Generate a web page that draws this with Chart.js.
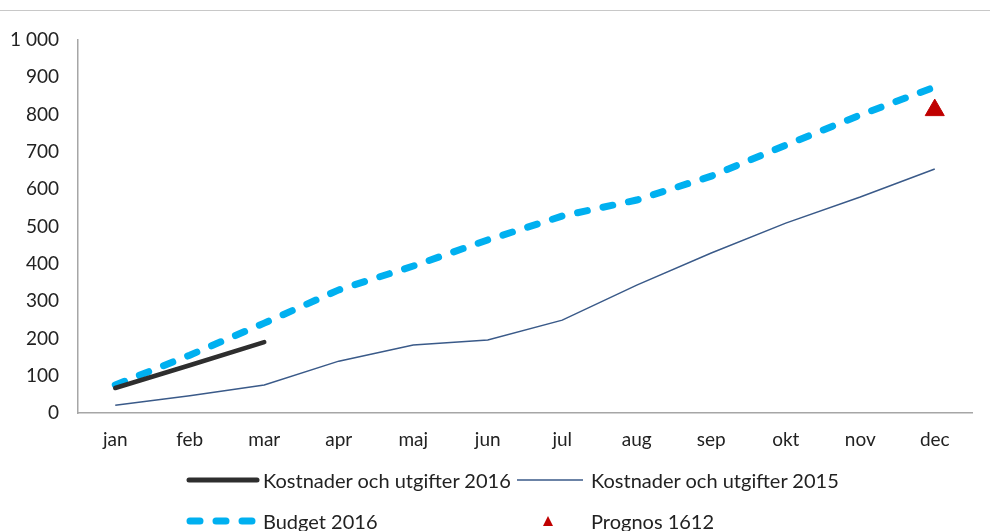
<!DOCTYPE html>
<html>
<head>
<meta charset="utf-8">
<script src="https://cdn.jsdelivr.net/npm/chart.js@4/dist/chart.umd.min.js"></script>
<style>
  html, body { margin: 0; padding: 0; background: #fff; }
  #wrap { position: relative; width: 990px; height: 531px; overflow: hidden; font-family: Lato, "Open Sans", sans-serif; }
  #topline { position: absolute; left: 0; top: 10px; width: 990px; height: 0; border-top: 1px solid #c8c8c8; }
  canvas { position: absolute; left: 0; top: 0; }
  .lg { position: absolute; font-size: 20px; color: #222; white-space: nowrap; line-height: 24px; }
  svg.mk { position: absolute; }
</style>
</head>
<body>
<div id="wrap">
  <canvas id="c" width="990" height="531"></canvas>
  <div id="topline"></div>
  <svg class="mk" style="left:185px;top:472px" width="76" height="16"><line x1="4" y1="8" x2="72" y2="8" stroke="#2e2e2e" stroke-width="5" stroke-linecap="round"/></svg>
  <div class="lg" style="left:263px;top:468px">Kostnader och utgifter 2016</div>
  <svg class="mk" style="left:515px;top:472px" width="70" height="16"><line x1="2" y1="8" x2="68" y2="8" stroke="#3a5a89" stroke-width="1.5"/></svg>
  <div class="lg" style="left:591px;top:468px">Kostnader och utgifter 2015</div>
  <svg class="mk" style="left:183px;top:513px" width="80" height="16"><line x1="7" y1="8" x2="76" y2="8" stroke="#00b0f0" stroke-width="7" stroke-linecap="round" stroke-dasharray="10 16"/></svg>
  <div class="lg" style="left:263px;top:509px">Budget 2016</div>
  <svg class="mk" style="left:541px;top:514px" width="14" height="14"><polygon points="7,2 12,12 2,12" fill="#c00000"/></svg>
  <div class="lg" style="left:591px;top:509px">Prognos 1612</div>
</div>
<script>
const months = ["jan","feb","mar","apr","maj","jun","jul","aug","sep","okt","nov","dec"];
const costs2016 = [67, 128, 190, null, null, null, null, null, null, null, null, null];
const costs2015 = [21, 46, 75, 139, 182, 196, 249, 343, 429, 509, 579, 654];
const budget2016 = [75, 155, 241, 330, 394, 464, 528, 571, 635, 718, 799, 874];
const prognos1612 = [null, null, null, null, null, null, null, null, null, null, null, 812];
const yTicks = [0, 100, 200, 300, 400, 500, 600, 700, 800, 900, 1000];

const fmt = v => v >= 1000 ? String(v).replace(/\B(?=(\d{3})+(?!\d))/g, "\u00a0") : String(v);

new Chart(document.getElementById("c"), {
  type: "line",
  data: {
    labels: months,
    datasets: [
      { label: "Prognos 1612", data: prognos1612, showLine: false, pointStyle: "triangle",
        pointRadius: 11, pointBackgroundColor: "#c00000", pointBorderColor: "#c00000", order: 0 },
      { label: "Kostnader och utgifter 2016", data: costs2016, borderColor: "#2e2e2e", borderWidth: 4.5,
        pointRadius: 0, borderCapStyle: "round", tension: 0, order: 1 },
      { label: "Budget 2016", data: budget2016, borderColor: "#00b0f0", borderWidth: 7,
        borderDash: [10, 16], borderCapStyle: "round", pointRadius: 0, tension: 0, order: 2 },
      { label: "Kostnader och utgifter 2015", data: costs2015, borderColor: "#3a5a89", borderWidth: 1.5,
        pointRadius: 0, tension: 0, order: 3 }
    ]
  },
  options: {
    responsive: false,
    animation: false,
    events: [],
    layout: { padding: { top: 40, right: 18, bottom: 68, left: 0 } },
    plugins: { legend: { display: false }, tooltip: { enabled: false } },
    scales: {
      x: {
        offset: true,
        grid: { display: false, drawTicks: false, offset: true },
        border: { display: true, color: "#a6a6a6", width: 1.5 },
        ticks: { color: "#222", font: { family: "Lato", size: 19 }, padding: 15, maxRotation: 0 },
        afterFit: s => { s.height = 50; }
      },
      y: {
        min: 0, max: 1000,
        afterBuildTicks: s => { s.ticks = yTicks.map(v => ({ value: v })); },
        grid: { display: false, drawTicks: false },
        border: { display: true, color: "#a6a6a6", width: 1.5 },
        ticks: { color: "#222", font: { family: "Lato", size: 19 }, padding: 19, callback: v => fmt(v) },
        afterFit: s => { s.width = 78; }
      }
    }
  }
});
</script>
</body>
</html>
